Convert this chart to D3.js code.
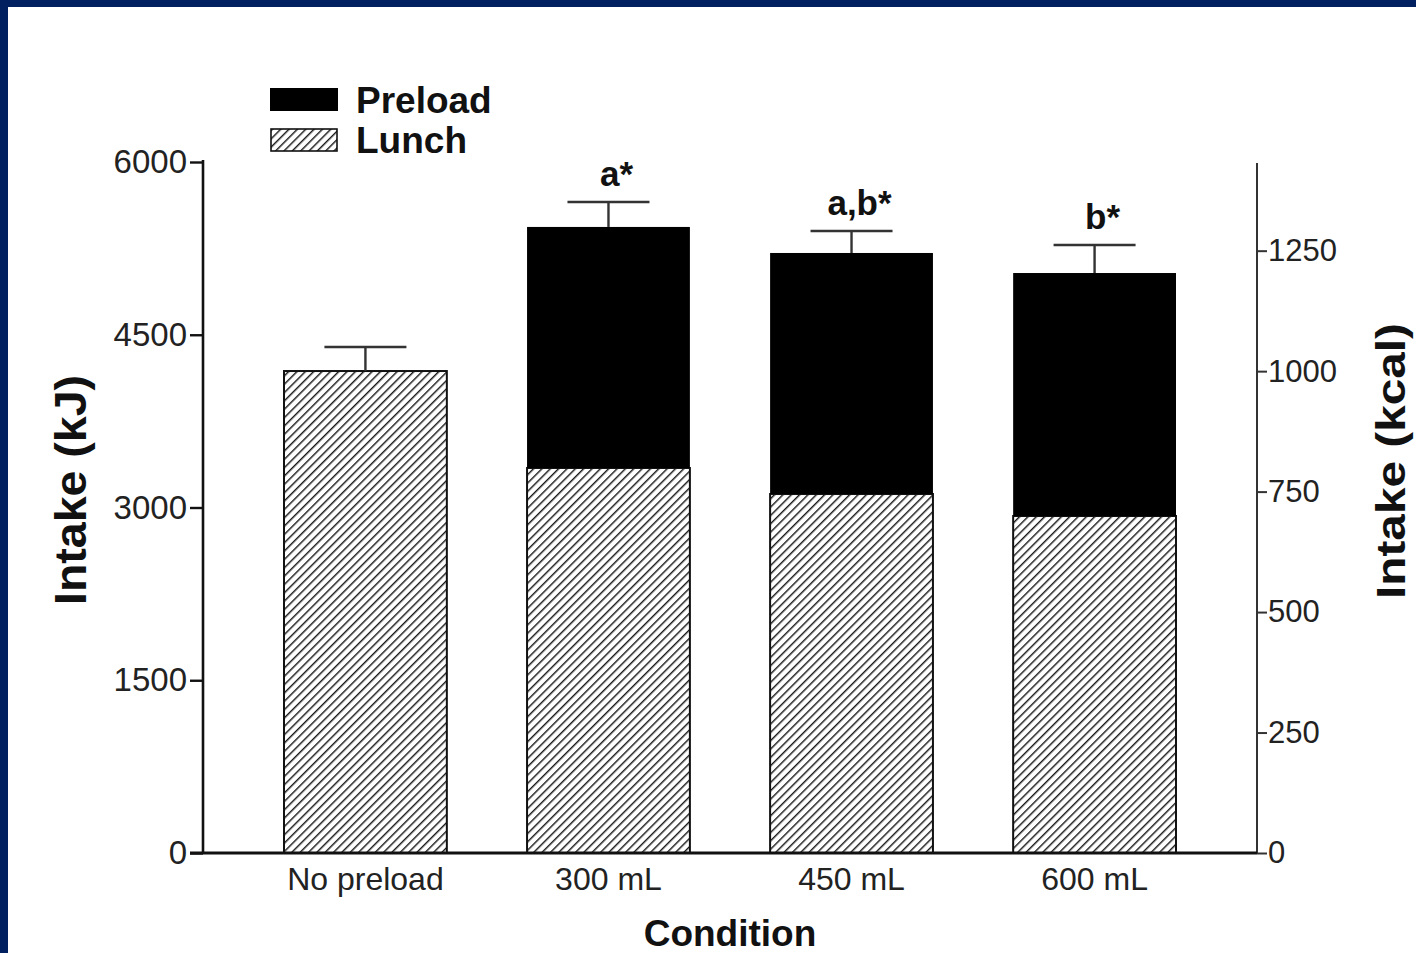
<!DOCTYPE html>
<html>
<head>
<meta charset="utf-8">
<script src="https://cdn.jsdelivr.net/npm/d3@7"></script>
<style>
  html, body { margin: 0; padding: 0; background: #fff; }
  svg { display: block; }
  text { font-family: "Liberation Sans", Arial, Helvetica, sans-serif; }
</style>
</head>
<body>
<svg id="chart" width="1416" height="953"></svg>
<script>
// Energy intake by preload condition (kJ, with kcal on the right axis)
const categories = ["No preload", "300 mL", "450 mL", "600 mL"];
const lunchKJ    = [4185, 3343, 3117, 2926];
const totalKJ    = [4185, 5436, 5210, 5036];
const errorTopKJ = [4394, 5653, 5401, 5279];
const sigLabels  = ["", "a*", "a,b*", "b*"];
const kjTicks    = [0, 1500, 3000, 4500, 6000];
const kcalTicks  = [0, 250, 500, 750, 1000, 1250];
const KJ_PER_KCAL = 4.184;

const svg = d3.select("#chart");
const W = 1416, H = 953;

// frame
svg.append("rect").attr("width", W).attr("height", H).attr("fill", "#002060");
svg.append("rect").attr("x", 8).attr("y", 7).attr("width", W - 8).attr("height", H - 7).attr("fill", "#fff");

// hatch pattern for the lunch segment
const defs = svg.append("defs");
const pat = defs.append("pattern")
  .attr("id", "hatch")
  .attr("patternUnits", "userSpaceOnUse")
  .attr("width", 5.9).attr("height", 5.9)
  .attr("patternTransform", "rotate(45)");
pat.append("rect").attr("width", 5.9).attr("height", 5.9).attr("fill", "#fff");
pat.append("line").attr("x1", 0).attr("y1", 0).attr("x2", 0).attr("y2", 5.9)
  .attr("stroke", "#1a1a1a").attr("stroke-width", 2.9);

const plotLeft = 203, plotRight = 1257, plotBottom = 853;

const x = d3.scaleBand().domain(categories).range([284, 1176]).paddingInner(0.33).paddingOuter(0);
const y = d3.scaleLinear().domain([0, 6000]).range([plotBottom, 162]);
const yk = d3.scaleLinear().domain([0, 6000 / KJ_PER_KCAL]).range([plotBottom, 162]);

const data = categories.map((c, i) => ({
  c, lunch: lunchKJ[i], total: totalKJ[i], err: errorTopKJ[i], sig: sigLabels[i]
}));

// lunch (hatched) segments
svg.append("g").selectAll("rect").data(data).join("rect")
  .attr("x", d => x(d.c))
  .attr("y", d => y(d.lunch))
  .attr("width", x.bandwidth())
  .attr("height", d => y(0) - y(d.lunch))
  .attr("fill", "url(#hatch)")
  .attr("stroke", "#111").attr("stroke-width", 2);

// preload (solid) segments
svg.append("g").selectAll("rect").data(data.filter(d => d.total > d.lunch)).join("rect")
  .attr("x", d => x(d.c))
  .attr("y", d => y(d.total))
  .attr("width", x.bandwidth())
  .attr("height", d => y(d.lunch) - y(d.total))
  .attr("fill", "#000");

// error bars
const eb = svg.append("g").attr("stroke", "#333").attr("stroke-width", 2.4);
data.forEach(d => {
  const cx = x(d.c) + x.bandwidth() / 2;
  eb.append("line").attr("x1", cx).attr("x2", cx).attr("y1", y(d.total)).attr("y2", y(d.err));
  eb.append("line").attr("x1", cx - 41).attr("x2", cx + 41).attr("y1", y(d.err)).attr("y2", y(d.err));
});

// significance labels
svg.append("g").selectAll("text").data(data.filter(d => d.sig)).join("text")
  .attr("x", d => x(d.c) + x.bandwidth() / 2 + 8)
  .attr("y", d => y(d.err) - 16)
  .attr("text-anchor", "middle")
  .attr("font-size", 35).attr("font-weight", "bold").attr("fill", "#111")
  .text(d => d.sig);

// left axis
const leftAxis = svg.append("g").attr("transform", `translate(${plotLeft},0)`)
  .call(d3.axisLeft(y).tickValues(kjTicks).tickSize(13).tickPadding(3).tickFormat(d3.format("d")));
leftAxis.select(".domain").remove();
leftAxis.append("line").attr("x1", 0).attr("x2", 0).attr("y1", 160).attr("y2", plotBottom)
  .attr("stroke", "#111").attr("stroke-width", 2.6);
leftAxis.selectAll(".tick line").attr("stroke", "#111").attr("stroke-width", 2.4);
leftAxis.selectAll(".tick text").attr("font-size", 33).attr("fill", "#222")
  .attr("font-family", "Liberation Sans, Arial, sans-serif");

// right axis (kcal)
const rightAxis = svg.append("g").attr("transform", `translate(${plotRight},0)`)
  .call(d3.axisRight(yk).tickValues(kcalTicks).tickSize(10).tickPadding(1).tickFormat(d3.format("d")));
rightAxis.select(".domain").remove();
rightAxis.append("line").attr("x1", 0).attr("x2", 0).attr("y1", 163).attr("y2", plotBottom)
  .attr("stroke", "#333").attr("stroke-width", 2);
rightAxis.selectAll(".tick line").attr("stroke", "#333").attr("stroke-width", 2);
rightAxis.selectAll(".tick text").attr("font-size", 31).attr("fill", "#222")
  .attr("font-family", "Liberation Sans, Arial, sans-serif");

// x axis baseline and category labels
svg.append("line").attr("x1", 190).attr("x2", plotRight).attr("y1", plotBottom).attr("y2", plotBottom)
  .attr("stroke", "#111").attr("stroke-width", 3);
svg.append("g").selectAll("text").data(categories).join("text")
  .attr("x", d => x(d) + x.bandwidth() / 2)
  .attr("y", 890)
  .attr("text-anchor", "middle")
  .attr("font-size", 32).attr("fill", "#222")
  .text(d => d);

// axis titles
svg.append("text").attr("x", 730).attr("y", 946).attr("text-anchor", "middle")
  .attr("font-size", 37).attr("font-weight", "bold").attr("fill", "#111").text("Condition");
svg.append("text").attr("transform", "translate(86,490) rotate(-90)").attr("text-anchor", "middle")
  .attr("font-size", 44).attr("font-weight", "bold").attr("fill", "#111")
  .attr("textLength", 230).attr("lengthAdjust", "spacingAndGlyphs").text("Intake (kJ)");
svg.append("text").attr("transform", "translate(1405,461) rotate(-90)").attr("text-anchor", "middle")
  .attr("font-size", 40).attr("font-weight", "bold").attr("fill", "#111")
  .attr("textLength", 276).attr("lengthAdjust", "spacingAndGlyphs").text("Intake (kcal)");

// legend
const legend = svg.append("g");
legend.append("rect").attr("x", 270).attr("y", 88).attr("width", 68).attr("height", 23).attr("fill", "#000");
legend.append("rect").attr("x", 271).attr("y", 129).attr("width", 66).attr("height", 22)
  .attr("fill", "url(#hatch)").attr("stroke", "#111").attr("stroke-width", 1.6);
legend.append("text").attr("x", 356).attr("y", 113).attr("font-size", 37).attr("font-weight", "bold")
  .attr("fill", "#111").text("Preload");
legend.append("text").attr("x", 356).attr("y", 153).attr("font-size", 37).attr("font-weight", "bold")
  .attr("fill", "#111").text("Lunch");
</script>
</body>
</html>
